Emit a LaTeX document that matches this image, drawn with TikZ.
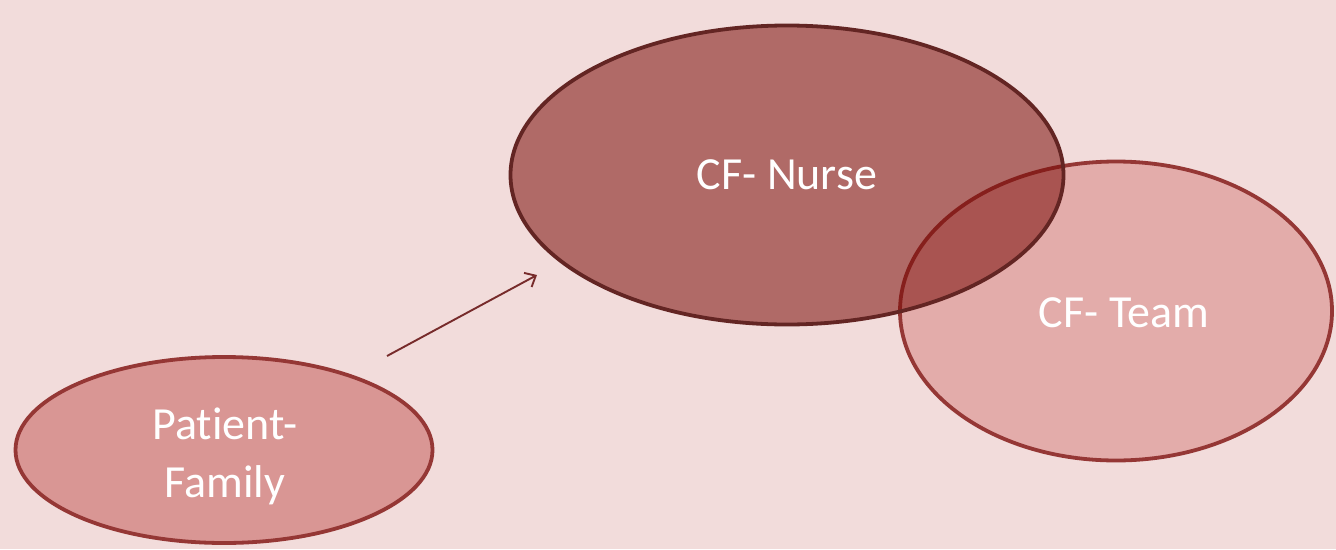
\documentclass[tikz,border=0pt]{standalone}
\usepackage{fontspec}
\setmainfont[Ligatures=NoCommon]{Carlito}
\usepackage{tikz}
\usepackage{xcolor}
\usetikzlibrary{shapes}
\usetikzlibrary{shapes.geometric}
\usetikzlibrary{arrows.meta}
\usetikzlibrary{positioning}

\definecolor{bgpink}{HTML}{F2DCDB}
\definecolor{nursefill}{RGB}{122,13,8}
\definecolor{nurseline}{HTML}{632523}
\definecolor{teamfill}{HTML}{E3ACAA}
\definecolor{famfill}{HTML}{D99694}
\definecolor{redline}{HTML}{953735}
\definecolor{arrowline}{HTML}{772B2B}

\begin{document}
\begin{tikzpicture}[x=1pt,y=-1pt]
        \tikzstyle{blob}=[ellipse,line width=3.8pt,text=white,font=\fontsize{46}{58}\selectfont,align=center,inner sep=0pt]
        \tikzstyle{edge}=[draw=arrowline,line width=1.9pt]
        \fill[bgpink] (0,0) rectangle (1336,549);
        \useasboundingbox (0,0) rectangle (1336,549);
       \begin{scope}
         \node [blob,draw=redline,fill=teamfill,minimum width=432pt,minimum height=299pt] (team) at (1116,311) {};
         \node [blob,draw=nurseline,fill=nursefill,fill opacity=0.55,draw opacity=1,text opacity=1,minimum width=553pt,minimum height=299pt] (nurse) at (787,175) {CF- Nurse};
         \node [blob,text=white] (teamtext) at (1124,313) {CF- Team};
         \node [blob,draw=redline,fill=famfill,minimum width=417pt,minimum height=186pt] (family) at (224,450) {};
         \node [blob,text=white] (famtext) at (225,456) {Patient-\\Family};
         \coordinate (from) at (387,356);
         \coordinate (to) at (537,275);
         \draw[edge,-{Straight Barb[length=9pt,width=16pt]}] (from) -- (to);
        \end{scope}
      \end{tikzpicture}
\end{document}
